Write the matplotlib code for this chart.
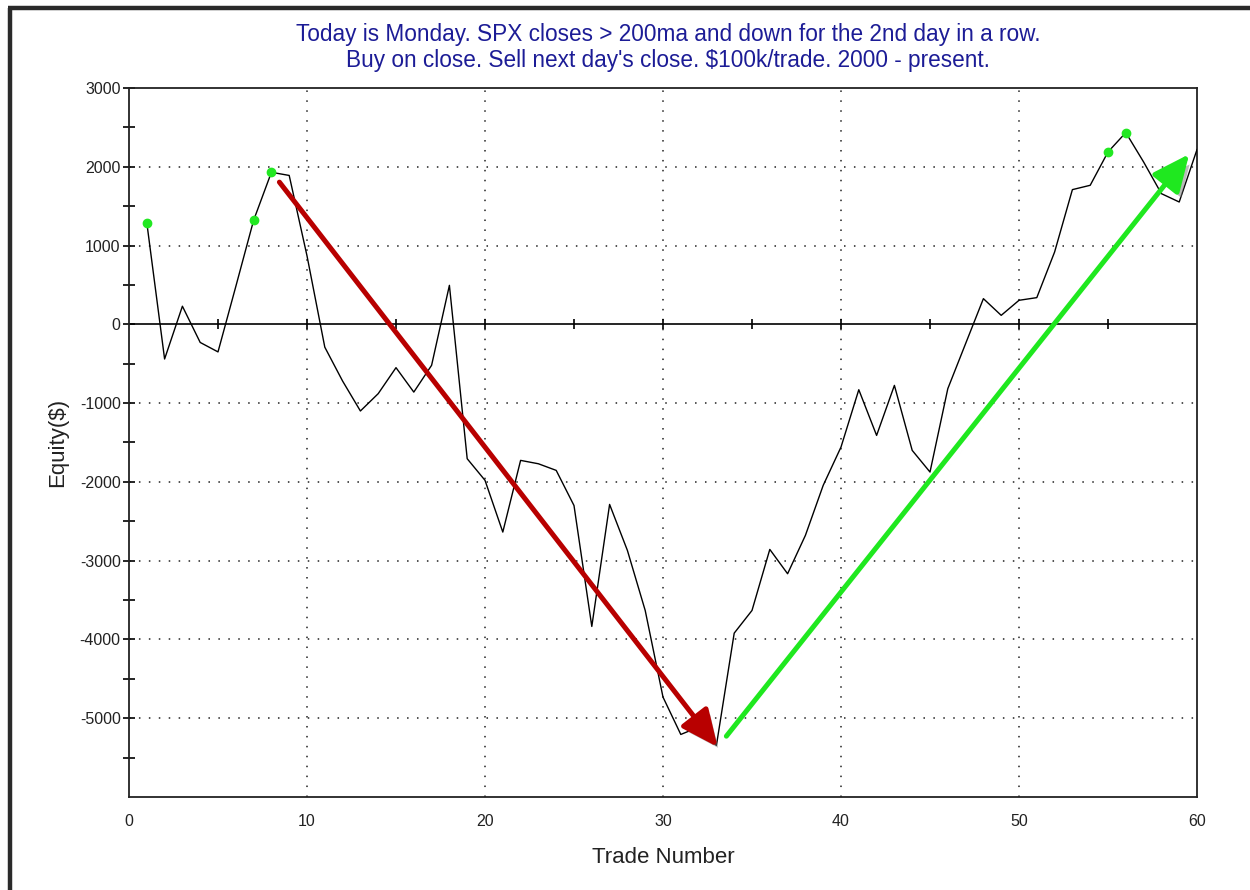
import matplotlib
matplotlib.use("Agg")
import matplotlib.pyplot as plt
import matplotlib.patheffects as pe
from matplotlib.lines import Line2D
import numpy as np

# ---- data ----
trade_number = list(range(1, 61))
equity = [1290, -440, 230, -230, -350, 480, 1320, 1930, 1890, 870,
          -290, -720, -1100, -880, -550, -860, -520, 495, -1706, -1980,
          -2637, -1727, -1770, -1854, -2300, -3835, -2286, -2870, -3632, -4732,
          -5206, -5113, -5346, -3920, -3632, -2857, -3166, -2679, -2044, -1558,
          -830, -1410, -775, -1600, -1875, -817, -245, 326, 114, 305,
          339, 918, 1710, 1765, 2188, 2434, 2061, 1659, 1553, 2218]
high_trades = [1, 7, 8, 55, 56]
x_ticks = [0, 10, 20, 30, 40, 50, 60]
y_ticks = [3000, 2000, 1000, 0, -1000, -2000, -3000, -4000, -5000]
title_lines = ["Today is Monday. SPX closes > 200ma and down for the 2nd day in a row.",
               "Buy on close. Sell next day's close. $100k/trade. 2000 - present."]
x_label = "Trade Number"
y_label = "Equity($)"
down_arrow = ((8.45, 1805), (33.07, -5365))
up_arrow = ((33.56, -5228), (59.56, 2160))

plt.rcParams['font.family'] = ['Liberation Sans', 'DejaVu Sans']
plt.rcParams['axes.unicode_minus'] = False

fig = plt.figure(figsize=(12.5, 8.9), dpi=100)
ax = fig.add_axes([129/1250, 1 - 797/890, (1197-129)/1250, (797-88)/890])

ax.set_xlim(0, 60)
ax.set_ylim(-6000, 3000)

# dotted grid
dot = (0, (1, 5.5))
for yv in y_ticks:
    if yv not in (0, 3000):
        ax.axhline(yv, color='#222222', lw=1.1, ls=dot, zorder=1)
for xv in x_ticks:
    if xv not in (0, 60):
        ax.axvline(xv, color='#222222', lw=1.1, ls=dot, zorder=1)

# zero line with small ticks every 5
ax.axhline(0, color='black', lw=1.2, zorder=2)
ax.plot(list(range(5, 60, 5)), [0] * 11, ls='none', marker='|', ms=7, mew=1.2,
        color='black', zorder=2)

# equity line
ax.plot(trade_number, equity, color='black', lw=1.0, zorder=3)
hx = high_trades
hy = [equity[t - 1] for t in high_trades]
ax.plot(hx, hy, ls='none', marker='o', ms=6, color='#22e822', mec='#22e822', zorder=4)

# arrows
shadow = [pe.SimplePatchShadow(offset=(3, -4), shadow_rgbFace='#777777', alpha=0.5), pe.Normal()]
for (start, tip), col in ((down_arrow, '#b80000'), (up_arrow, '#1fe81f')):
    ann = ax.annotate('', xy=tip, xytext=start,
                      arrowprops=dict(arrowstyle='-|>,head_length=0.75,head_width=0.34',
                                      mutation_scale=30, lw=3.6, color=col,
                                      shrinkA=0, shrinkB=0),
                      zorder=5)
    ann.arrow_patch.set_path_effects(shadow)

# ticks
ax.set_xticks(x_ticks)
ax.set_yticks(y_ticks)
ax.set_yticks(np.arange(-5500, 3000, 1000), minor=True)
ax.tick_params(axis='y', which='both', direction='inout', length=8, width=1.2,
               labelsize=11.5, pad=2, labelcolor='#222222')
ax.tick_params(axis='x', length=0, labelsize=11.5, pad=12, labelcolor='#222222')
for s in ax.spines.values():
    s.set_linewidth(1.3)
    s.set_color('#222222')

ax.set_xlabel(x_label, fontsize=16, labelpad=13, color='#222222')
ax.set_ylabel(y_label, fontsize=16, labelpad=8, color='#222222')

fig.text(668/1250, 1 - 35/890, title_lines[0], ha='center', va='center',
         fontsize=16.3, color='#1c1c96')
fig.text(668/1250, 1 - 61/890, title_lines[1], ha='center', va='center',
         fontsize=16.3, color='#1c1c96')

# outer frame (left and top dark bars)
fig.add_artist(Line2D([9.5/1250, 9.5/1250], [0, 1 - 8/890], transform=fig.transFigure,
                      color='#2a2a2a', lw=3.2, solid_capstyle='butt'))
fig.add_artist(Line2D([8/1250, 1], [1 - 8/890, 1 - 8/890], transform=fig.transFigure,
                      color='#2a2a2a', lw=3.2, solid_capstyle='butt'))

fig.savefig('out.png', dpi=100)
